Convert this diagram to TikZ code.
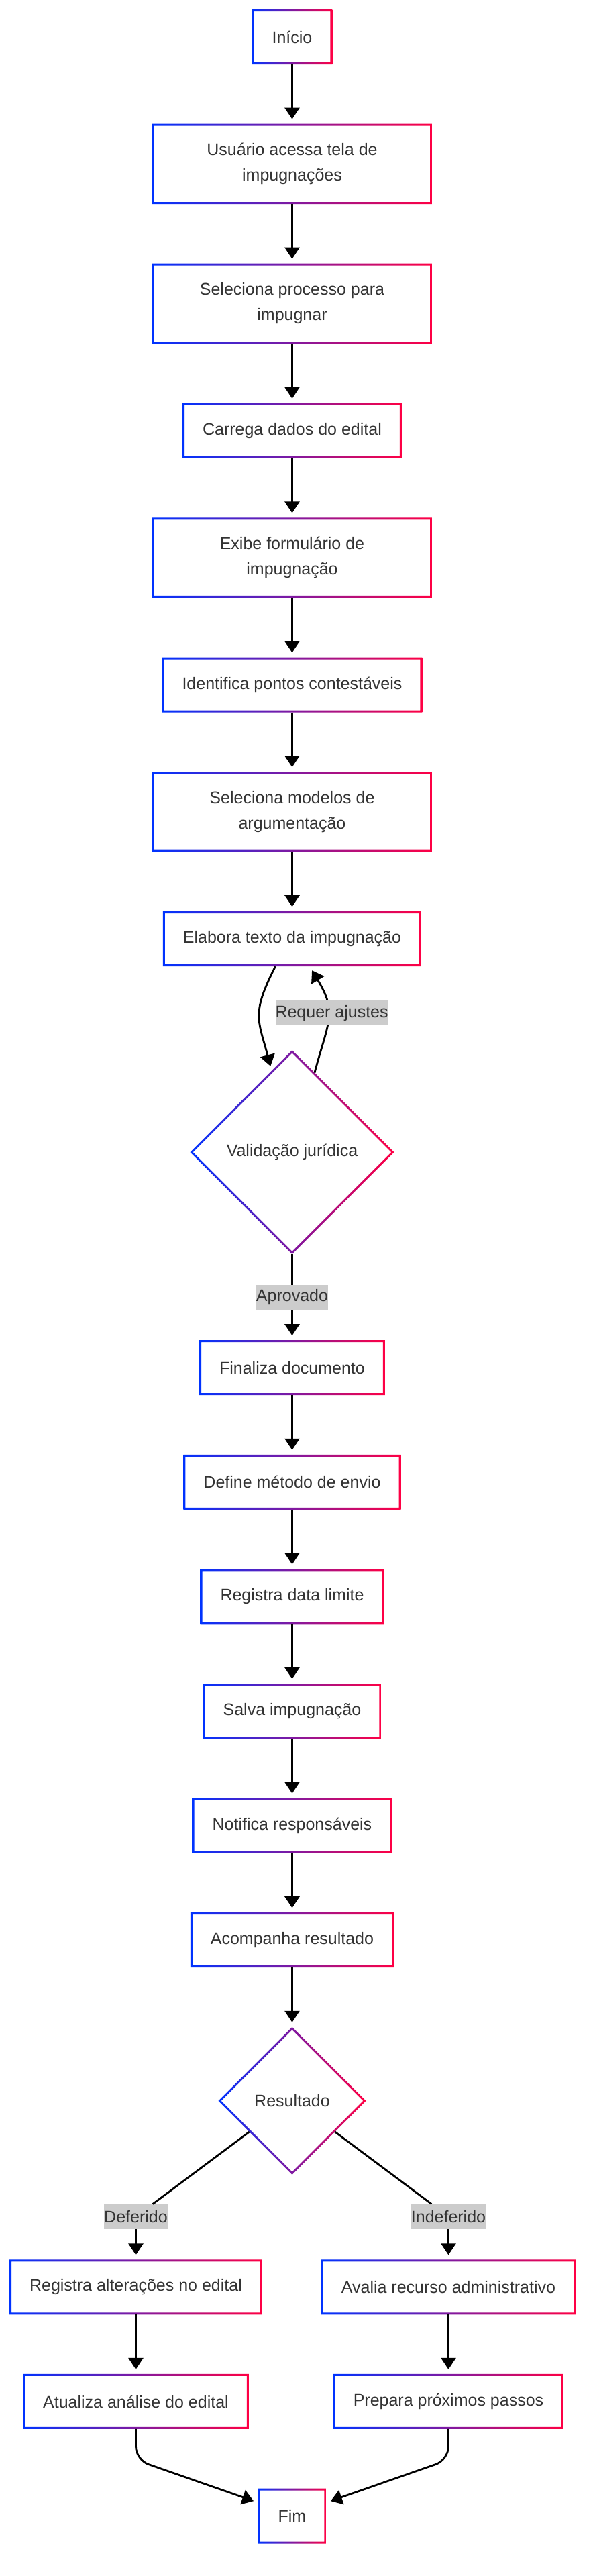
\documentclass[tikz,border=0pt]{standalone}
\usepackage{fontspec}
\setmainfont{Liberation Sans}
\usetikzlibrary{
    positioning,      % For placing nodes relative to each other
    arrows.meta,      % For the triangle arrow tips
    calc,             % For points along the diamond edges
    shapes.geometric  % For the decision diamonds
}
\definecolor{gradblue}{HTML}{0033FF}
\definecolor{gradred}{HTML}{FF0044}
\definecolor{textgrey}{HTML}{333333}
\definecolor{labelgrey}{HTML}{CCCCCC}

\begin{document}
\begin{tikzpicture}[
    % Global style settings
    node distance=44.3pt, % Default vertical spacing between steps
    % Style for the process steps (gradient border)
    box_style/.style={
        rectangle,
        fill=white,
        text=textgrey,
        font=\fontsize{12.5}{19}\selectfont,
        inner xsep=15pt, inner ysep=0pt, outer sep=0pt,
        minimum height=41pt,
        align=center,
        path picture={
            \shade[left color=gradblue, right color=gradred, even odd rule]
                (path picture bounding box.south west) rectangle (path picture bounding box.north east)
                ([shift={(1.5pt,1.5pt)}]path picture bounding box.south west)
                rectangle ([shift={(-1.5pt,-1.5pt)}]path picture bounding box.north east);
        }
    },
    % Style for the two-line steps
    wide_style/.style={
        box_style,
        minimum width=208.5pt,
        minimum height=59.75pt
    },
    % Style for the decisions
    decision_style/.style={
        diamond,
        aspect=1,
        fill=white,
        text=textgrey,
        font=\fontsize{12.5}{19}\selectfont,
        inner sep=0pt, outer sep=0pt,
        path picture={
            \shade[left color=gradblue, right color=gradred, even odd rule]
                (path picture bounding box.south west) rectangle (path picture bounding box.north east)
                ([yshift=-2.12pt]path picture bounding box.north)
                -- ([xshift=-2.12pt]path picture bounding box.east)
                -- ([yshift=2.12pt]path picture bounding box.south)
                -- ([xshift=2.12pt]path picture bounding box.west) -- cycle;
        }
    },
    % Style for the grey edge labels
    label_style/.style={
        fill=labelgrey,
        text=textgrey,
        font=\fontsize{12.5}{19}\selectfont,
        inner sep=0pt,
        minimum height=18.5pt
    },
    % Style for connectors
    line_style/.style={
        line width=1.4pt
    },
    % Style for arrowheads
    arrow_tip/.style={
        line_style,
        -{Triangle[length=8.5pt, width=11pt]},
        shorten >=3.5pt
    }
]
    % 1. Main sequence of steps, each placed below the previous one.
    \node[box_style] (inicio) {Início};
    \node[wide_style, below=of inicio] (acessa_tela) {Usuário acessa tela de\\impugnações};
    \node[wide_style, below=of acessa_tela] (seleciona_processo) {Seleciona processo para\\impugnar};
    \node[box_style, below=of seleciona_processo] (carrega_dados) {Carrega dados do edital};
    \node[wide_style, below=of carrega_dados] (exibe_formulario) {Exibe formulário de\\impugnação};
    \node[box_style, below=of exibe_formulario] (identifica_pontos) {Identifica pontos contestáveis};
    \node[wide_style, below=of identifica_pontos] (seleciona_modelos) {Seleciona modelos de\\argumentação};
    \node[box_style, below=of seleciona_modelos] (elabora_texto) {Elabora texto da impugnação};

    % 2. Legal validation and the steps after approval.
    \node[decision_style, minimum width=152pt, minimum height=152pt, below=62.5pt of elabora_texto] (validacao) {Validação jurídica};
    \node[box_style, below=64pt of validacao] (finaliza_documento) {Finaliza documento};
    \node[box_style, below=of finaliza_documento] (define_envio) {Define método de envio};
    \node[box_style, below=of define_envio] (registra_data) {Registra data limite};
    \node[box_style, below=of registra_data] (salva_impugnacao) {Salva impugnação};
    \node[box_style, below=of salva_impugnacao] (notifica) {Notifica responsáveis};
    \node[box_style, below=of notifica] (acompanha) {Acompanha resultado};
    \node[decision_style, minimum width=110pt, minimum height=110pt, below=of acompanha] (resultado) {Resultado};

    % 3. The two branches and the end.
    \node[box_style, below=63.25pt of resultado, xshift=-116.5pt] (registra_alteracoes) {Registra alterações no edital};
    \node[box_style, below=63.25pt of resultado, xshift=116.5pt] (avalia_recurso) {Avalia recurso administrativo};
    \node[box_style, below=of registra_alteracoes] (atualiza_analise) {Atualiza análise do edital};
    \node[box_style, below=of avalia_recurso] (prepara_passos) {Prepara próximos passos};
    \coordinate (fim_top) at (atualiza_analise.south -| resultado.south);
    \node[box_style, below=of fim_top] (fim) {Fim};

    % 4. Branch labels sitting on the bends.
    \node[label_style, above=22.5pt of registra_alteracoes.north] (deferido) {Deferido};
    \node[label_style, above=22.5pt of avalia_recurso.north] (indeferido) {Indeferido};

    % 5. Straight arrows of the main sequence.
    \draw[arrow_tip] (inicio) -- (acessa_tela);
    \draw[arrow_tip] (acessa_tela) -- (seleciona_processo);
    \draw[arrow_tip] (seleciona_processo) -- (carrega_dados);
    \draw[arrow_tip] (carrega_dados) -- (exibe_formulario);
    \draw[arrow_tip] (exibe_formulario) -- (identifica_pontos);
    \draw[arrow_tip] (identifica_pontos) -- (seleciona_modelos);
    \draw[arrow_tip] (seleciona_modelos) -- (elabora_texto);
    \draw[arrow_tip] (validacao) -- node[label_style] {Aprovado} (finaliza_documento);
    \draw[arrow_tip] (finaliza_documento) -- (define_envio);
    \draw[arrow_tip] (define_envio) -- (registra_data);
    \draw[arrow_tip] (registra_data) -- (salva_impugnacao);
    \draw[arrow_tip] (salva_impugnacao) -- (notifica);
    \draw[arrow_tip] (notifica) -- (acompanha);
    \draw[arrow_tip] (acompanha) -- (resultado);

    % 6. The review loop between the text and the validation.
    \draw[arrow_tip] ([xshift=-12.5pt]elabora_texto.south) to[out=-117, in=105, looseness=1.3]
        ($(validacao.north)!0.2!(validacao.west)$);
    \draw[arrow_tip] ($(validacao.north)!0.22!(validacao.east)$) to[out=75, in=-59, looseness=1.3]
        node[label_style, pos=0.55, xshift=3pt] {Requer ajustes} ([xshift=13pt]elabora_texto.south);

    % 7. Branches out of the result and into the end.
    \draw[line_style] ($(resultado.west)!0.42!(resultado.south)$) -- (deferido);
    \draw[arrow_tip] (deferido) -- (registra_alteracoes);
    \draw[line_style] ($(resultado.east)!0.42!(resultado.south)$) -- (indeferido);
    \draw[arrow_tip] (indeferido) -- (avalia_recurso);
    \draw[arrow_tip] (registra_alteracoes) -- (atualiza_analise);
    \draw[arrow_tip] (avalia_recurso) -- (prepara_passos);
    \draw[arrow_tip, rounded corners=10pt] (atualiza_analise.south) -- ++(0,-23pt) -- ([yshift=10pt]fim.west);
    \draw[arrow_tip, rounded corners=10pt] (prepara_passos.south) -- ++(0,-23pt) -- ([yshift=10pt]fim.east);

    % 8. Page margins as in the reference.
    \useasboundingbox ([shift={(-217.75pt,7pt)}]inicio.north) rectangle ([shift={(222.25pt,-1912.5pt)}]inicio.north);
\end{tikzpicture}
\end{document}
